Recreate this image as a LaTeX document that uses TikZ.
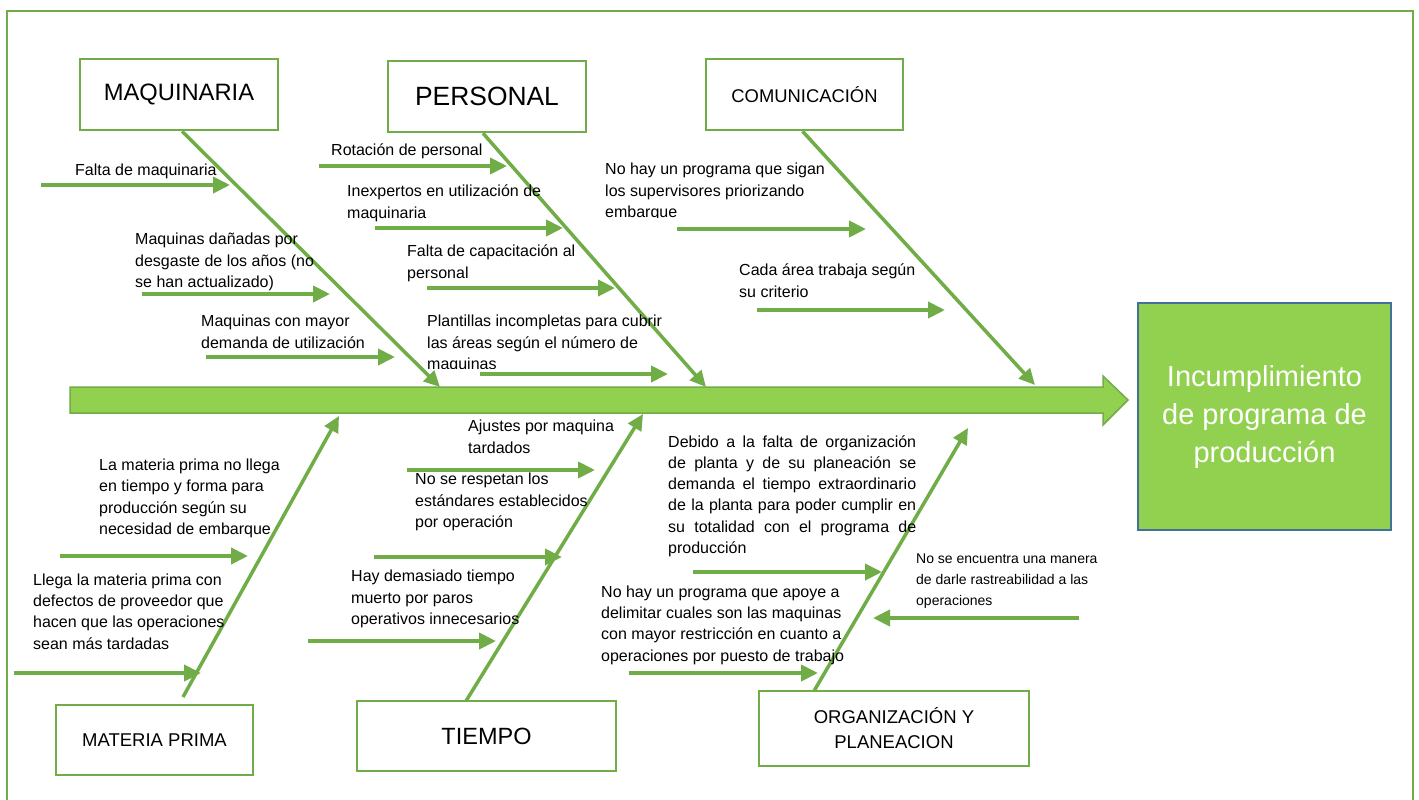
\documentclass[tikz,border=0pt]{standalone}
\usepackage{fontspec}
\setmainfont{Liberation Sans}
\usetikzlibrary{arrows.meta}
\definecolor{lgreen}{HTML}{70AD47}
\definecolor{fillgreen}{HTML}{92D050}
\definecolor{boxblue}{HTML}{41719C}
\begin{document}
\begin{tikzpicture}[x=1pt,y=-1pt,
  bone/.style={draw=lgreen, line width=3.5pt, -{Triangle[length=16pt,width=15pt]}},
  branch/.style={draw=lgreen, line width=4pt, -{Triangle[length=17pt,width=16pt]}},
  catbox/.style={draw=lgreen, line width=2.5pt, fill=white, inner sep=0pt, align=center},
  % cause texts are placed by the baseline of their last line
  cause/.style={font=\fontsize{16}{21.3}\selectfont, align=left, anchor=base west, inner sep=0pt},
  causesm/.style={font=\fontsize{14}{21}\selectfont, align=left, anchor=base west, inner sep=0pt}
]
\clip (0,0) rectangle (1419,800);
\fill[white] (0,0) rectangle (1419,800);

% outer frame
\draw[lgreen, line width=2.5pt] (7,11) rectangle (1413,840);

% main spine (block arrow)
\draw[lgreen, line width=1.5pt, fill=fillgreen]
  (70,387) -- (1103,387) -- (1103,376) -- (1128,400) -- (1103,425) -- (1103,413) -- (70,413) -- cycle;
\coordinate (maqT) at (440,387);
\coordinate (perT) at (706,387);
\coordinate (comT) at (1035,385);
\coordinate (mpT)  at (339,416);
\coordinate (tieT) at (643,414);
\coordinate (orgT) at (968,428);

% effect
\node[draw=boxblue, line width=2pt, fill=fillgreen, minimum width=253pt, minimum height=227pt,
      inner sep=0pt, text=white, align=center, font=\fontsize{29}{38}\selectfont]
  (effect) at (1264.5,416.5) {Incumplimiento\\de programa de\\producción};

% category boxes
\node[catbox, minimum width=198pt, minimum height=71pt, font=\fontsize{23.7}{28}\selectfont]
  (maq) at (179,94.5) {MAQUINARIA};
\node[catbox, minimum width=198pt, minimum height=71pt, font=\fontsize{26.4}{30}\selectfont]
  (per) at (487,96.5) {PERSONAL};
\node[catbox, minimum width=197pt, minimum height=71pt, font=\fontsize{18.4}{22}\selectfont]
  (com) at (804.5,94.5) {COMUNICACIÓN};
\node[catbox, minimum width=197pt, minimum height=70pt, font=\fontsize{18.5}{22}\selectfont]
  (mp) at (154.5,740) {MATERIA PRIMA};
\node[catbox, minimum width=259pt, minimum height=70pt, font=\fontsize{23.5}{28}\selectfont]
  (tie) at (486.5,736) {TIEMPO};
\node[catbox, minimum width=270pt, minimum height=75pt, font=\fontsize{18.5}{25}\selectfont]
  (org) at (894,728.5) {ORGANIZACIÓN Y\\PLANEACION};

% bones from categories to the spine
\coordinate (mpS)  at (183,697);
\coordinate (tieS) at (466,701);
\coordinate (orgS) at (814,691);
\draw[bone] (maq.south) ++(3,0) coordinate (maqS) -- (maqT);
\draw[bone] (per.south) ++(-4,0) coordinate (perS) -- (perT);
\draw[bone] (com.south) ++(-2,0) coordinate (comS) -- (comT);
\draw[bone] (mpS) -- (mpT);
\draw[bone] (tieS) -- (tieT);
\draw[bone] (orgS) -- (orgT);

% MAQUINARIA causes
\coordinate (a1) at (41,185);  \coordinate (a1h) at (230,185);
\coordinate (a2) at (142,294); \coordinate (a2h) at (330,294);
\coordinate (a3) at (206,357); \coordinate (a3h) at (395,357);
\draw[branch] (a1) -- (a1h);
\draw[branch] (a2) -- (a2h);
\draw[branch] (a3) -- (a3h);
\node[cause] (t1) at (75,175) {Falta de maquinaria};
\node[cause] (t2) at (135,287.5) {Maquinas dañadas por\\desgaste de los años (no\\se han actualizado)};
\node[cause] (t3) at (201,348) {Maquinas con mayor\\demanda de utilización};

% PERSONAL causes
\coordinate (b1) at (319,166); \coordinate (b1h) at (507,166);
\coordinate (b2) at (375,228); \coordinate (b2h) at (563,228);
\coordinate (b3) at (427,288); \coordinate (b3h) at (615,288);
\coordinate (b4) at (480,374); \coordinate (b4h) at (668,374);
\draw[branch] (b1) -- (b1h);
\draw[branch] (b2) -- (b2h);
\draw[branch] (b3) -- (b3h);
\draw[branch] (b4) -- (b4h);
\node[cause] (u1) at (331,155) {Rotación de personal};
\node[cause] (u2) at (347,218) {Inexpertos en utilización de\\maquinaria};
\node[cause] (u3) at (407,278) {Falta de capacitación al\\personal};
\begin{scope}
  \clip (420,300) rectangle (700,368.5);
  \node[cause] (u4) at (427,369.5) {Plantillas incompletas para cubrir\\las áreas según el número de\\maquinas};
\end{scope}

% COMUNICACION causes
\coordinate (c1) at (677,229); \coordinate (c1h) at (866,229);
\coordinate (c2) at (757,310); \coordinate (c2h) at (945,310);
\draw[branch] (c1) -- (c1h);
\draw[branch] (c2) -- (c2h);
\begin{scope}
  \clip (590,150) rectangle (900,217.5);
  \node[cause] (v1) at (605,217.5) {No hay un programa que sigan\\los supervisores priorizando\\embarque};
\end{scope}
\node[cause] (v2) at (739,297) {Cada área trabaja según\\su criterio};

% MATERIA PRIMA causes
\coordinate (d1) at (60,556);  \coordinate (d1h) at (248,556);
\coordinate (d2) at (14,673);  \coordinate (d2h) at (201,673);
\draw[branch] (d1) -- (d1h);
\draw[branch] (d2) -- (d2h);
\node[cause] (w1) at (99,534.5) {La materia prima no llega\\en tiempo y forma para\\producción según su\\necesidad de embarque};
\node[cause] (w2) at (33,649) {Llega la materia prima con\\defectos de proveedor que\\hacen que las operaciones\\sean más tardadas};

% TIEMPO causes
\coordinate (e1) at (407,470); \coordinate (e1h) at (595,470);
\coordinate (e2) at (374,557); \coordinate (e2h) at (562,557);
\coordinate (e3) at (308,641); \coordinate (e3h) at (496,641);
\draw[branch] (e1) -- (e1h);
\draw[branch] (e2) -- (e2h);
\draw[branch] (e3) -- (e3h);
\node[cause] (x1) at (468,453) {Ajustes por maquina\\tardados};
\node[cause] (x2) at (415,527.5) {No se respetan los\\estándares establecidos\\por operación};
\node[cause] (x3) at (351,624.5) {Hay demasiado tiempo\\muerto por paros\\operativos innecesarios};

% ORGANIZACION Y PLANEACION causes
\coordinate (f1) at (693,572);  \coordinate (f1h) at (882,572);
\coordinate (f2) at (629,673);  \coordinate (f2h) at (818,673);
\coordinate (f3) at (1079,618); \coordinate (f3h) at (873,618);
\draw[branch] (f1) -- (f1h);
\draw[branch] (f2) -- (f2h);
\draw[branch] (f3) -- (f3h);
\node[cause] (y1) at (668,553.5) {\makebox[248pt][s]{Debido a la falta de organización}\\
  \makebox[248pt][s]{de planta y de su planeación se}\\
  \makebox[248pt][s]{demanda el tiempo extraordinario}\\
  \makebox[248pt][s]{de la planta para poder cumplir en}\\
  \makebox[248pt][s]{su totalidad con el programa de}\\
  producción};
\node[cause] (y2) at (601,661) {No hay un programa que apoye a\\delimitar cuales son las maquinas\\con mayor restricción en cuanto a\\operaciones por puesto de trabajo};
\node[causesm] (y3) at (916,605) {No se encuentra una manera\\de darle rastreabilidad a las\\operaciones};
\end{tikzpicture}
\end{document}
